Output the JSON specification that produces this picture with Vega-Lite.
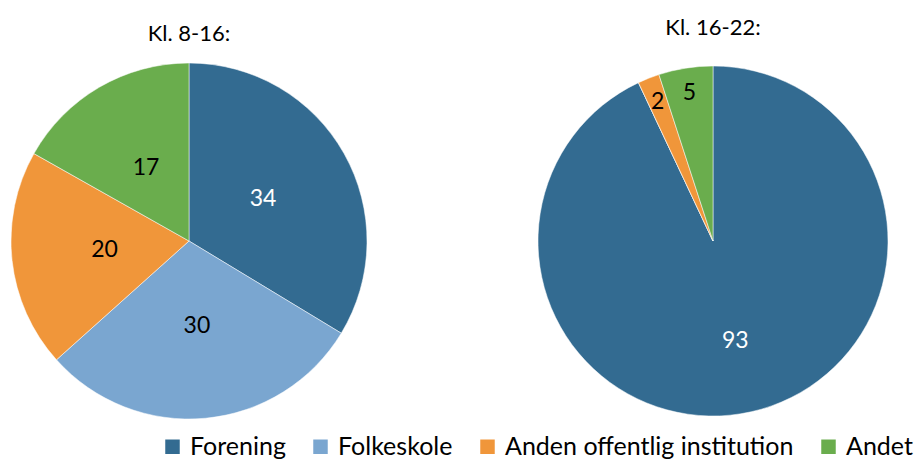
{
  "$schema": "https://vega.github.io/schema/vega-lite/v6.json",
  "padding": {"left": 10, "top": 17, "right": 5, "bottom": 0},
  "background": "white",
  "config": {
    "font": "Lato",
    "view": {"stroke": null},
    "concat": {"spacing": 167}
  },
  "datasets": {
    "pie": [
      {"group": "Kl. 8-16", "category": "Forening", "value": 34},
      {"group": "Kl. 8-16", "category": "Folkeskole", "value": 30},
      {"group": "Kl. 8-16", "category": "Anden offentlig institution", "value": 20},
      {"group": "Kl. 8-16", "category": "Andet", "value": 17},
      {"group": "Kl. 16-22", "category": "Forening", "value": 93},
      {"group": "Kl. 16-22", "category": "Folkeskole", "value": 0},
      {"group": "Kl. 16-22", "category": "Anden offentlig institution", "value": 2},
      {"group": "Kl. 16-22", "category": "Andet", "value": 5}
    ]
  },
  "data": {"name": "pie"},
  "transform": [
    {"calculate": "indexof(['Forening','Folkeskole','Anden offentlig institution','Andet'], datum.category)", "as": "rank"}
  ],
  "hconcat": [
    {
      "title": {"text": "Kl. 8-16:", "fontSize": 22, "fontWeight": "normal", "offset": 16, "color": "black"},
      "width": 356,
      "height": 356,
      "transform": [{"filter": "datum.group === 'Kl. 8-16'"}],
      "encoding": {
        "theta": {"field": "value", "type": "quantitative", "stack": true},
        "order": {"field": "rank", "type": "quantitative", "sort": "ascending"}
      },
      "layer": [
        {
          "mark": {"type": "arc", "outerRadius": 178, "stroke": "white", "strokeWidth": 0.5},
          "encoding": {
            "color": {
              "field": "category", "type": "nominal",
              "scale": {"domain": ["Forening", "Folkeskole", "Anden offentlig institution", "Andet"], "range": ["#336b91", "#7aa6d0", "#f0963a", "#6aad4d"]},
              "legend": {
                "orient": "none",
                "legendX": 149,
                "legendY": 371,
                "direction": "horizontal",
                "title": null,
                "symbolType": "square",
                "symbolSize": 210,
                "symbolStrokeWidth": 0,
                "labelFontSize": 25,
                "labelColor": "black",
                "labelOffset": 5,
                "columnPadding": 22,
                "labelLimit": 400
              }
            }
          }
        },
        {
          "mark": {"type": "text", "radius": 85, "fontSize": 23},
          "encoding": {
            "detail": {"field": "category", "type": "nominal"},
            "text": {"field": "value", "type": "quantitative"},
            "color": {"condition": {"test": "datum.category === 'Forening'", "value": "white"}, "value": "black"}
          }
        }
      ]
    },
    {
      "title": {"text": "Kl. 16-22:", "fontSize": 22, "fontWeight": "normal", "offset": 23, "color": "black"},
      "width": 356,
      "height": 356,
      "transform": [{"filter": "datum.group === 'Kl. 16-22'"}],
      "encoding": {
        "theta": {"field": "value", "type": "quantitative", "stack": true},
        "order": {"field": "rank", "type": "quantitative", "sort": "ascending"}
      },
      "layer": [
        {
          "mark": {"type": "arc", "outerRadius": 175, "stroke": "white", "strokeWidth": 0.5},
          "encoding": {
            "color": {
              "field": "category", "type": "nominal",
              "scale": {"domain": ["Forening", "Folkeskole", "Anden offentlig institution", "Andet"], "range": ["#336b91", "#7aa6d0", "#f0963a", "#6aad4d"]}
            }
          }
        },
        {
          "mark": {"type": "text", "radius": 102, "fontSize": 23},
          "encoding": {
            "detail": {"field": "category", "type": "nominal"},
            "text": {"condition": {"test": "datum.value >= 50", "field": "value", "type": "quantitative"}, "value": ""},
            "color": {"condition": {"test": "datum.category === 'Forening'", "value": "white"}, "value": "black"}
          }
        },
        {
          "mark": {"type": "text", "radius": 150, "fontSize": 23},
          "encoding": {
            "detail": {"field": "category", "type": "nominal"},
            "text": {"condition": {"test": "datum.value > 0 && datum.value < 50", "field": "value", "type": "quantitative"}, "value": ""},
            "color": {"value": "black"}
          }
        }
      ]
    }
  ]
}
